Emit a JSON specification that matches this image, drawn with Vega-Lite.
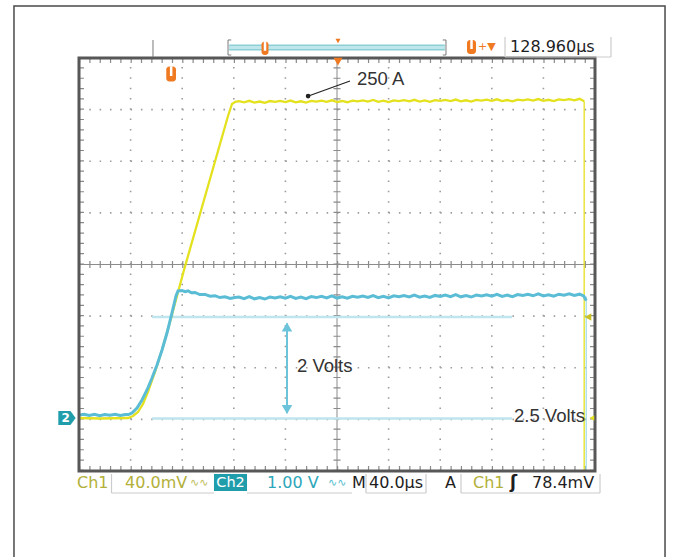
{
  "$schema": "https://vega.github.io/schema/vega-lite/v6.json",
  "width": 678,
  "height": 557,
  "padding": 0,
  "autosize": "none",
  "background": "#ffffff",
  "config": {"view": {"stroke": null}},
  "encoding": {
    "x": {"field": "x", "type": "quantitative", "scale": {"domain": [-1.531, 11.6085], "nice": false, "zero": false}, "axis": null},
    "y": {"field": "y", "type": "quantitative", "scale": {"domain": [-1.6659, 9.1235], "nice": false, "zero": false}, "axis": null}
  },
  "layer": [
    {
      "data": {"values": [{"x": -1.26, "x2": 11.357, "y": 9.007, "y2": -2}]},
      "mark": {"type": "rect", "fillOpacity": 0, "stroke": "#4a4a4a", "strokeWidth": 1.5},
      "encoding": {"x2": {"field": "x2"}, "y2": {"field": "y2"}}
    },
    {
      "data": {"values": [
        {"x": 1, "x2": 1, "y": 0, "y2": 8}, {"x": 2, "x2": 2, "y": 0, "y2": 8}, {"x": 3, "x2": 3, "y": 0, "y2": 8}, {"x": 4, "x2": 4, "y": 0, "y2": 8},
        {"x": 6, "x2": 6, "y": 0, "y2": 8}, {"x": 7, "x2": 7, "y": 0, "y2": 8}, {"x": 8, "x2": 8, "y": 0, "y2": 8}, {"x": 9, "x2": 9, "y": 0, "y2": 8},
        {"x": 0, "x2": 10, "y": 1, "y2": 1}, {"x": 0, "x2": 10, "y": 2, "y2": 2}, {"x": 0, "x2": 10, "y": 3, "y2": 3},
        {"x": 0, "x2": 10, "y": 5, "y2": 5}, {"x": 0, "x2": 10, "y": 6, "y2": 6}, {"x": 0, "x2": 10, "y": 7, "y2": 7}
      ]},
      "mark": {"type": "rule", "color": "#9c9c9c", "strokeWidth": 1.6, "strokeDash": [1.5, 8.82]},
      "encoding": {"x2": {"field": "x2"}, "y2": {"field": "y2"}}
    },
    {
      "data": {"values": [{"x": 0, "x2": 10, "y": 4, "y2": 4}, {"x": 5, "x2": 5, "y": 0, "y2": 8}]},
      "mark": {"type": "rule", "color": "#8a8a8a", "strokeWidth": 1},
      "encoding": {"x2": {"field": "x2"}, "y2": {"field": "y2"}}
    },
    {
      "data": {"values": [{"x": 0, "x2": 10, "y": 4, "y2": 4}, {"x": 5, "x2": 5, "y": 0, "y2": 8}]},
      "mark": {"type": "rule", "color": "#8a8a8a", "strokeWidth": 7, "strokeDash": [1.2, 9.12]},
      "encoding": {"x2": {"field": "x2"}, "y2": {"field": "y2"}}
    },
    {
      "data": {"values": [
        {"x": 0, "x2": 10, "y": 7.952, "y2": 7.952}, {"x": 0, "x2": 10, "y": 0.048, "y2": 0.048},
        {"x": 0.048, "x2": 0.048, "y": 0, "y2": 8}, {"x": 9.952, "x2": 9.952, "y": 0, "y2": 8}
      ]},
      "mark": {"type": "rule", "color": "#8a8a8a", "strokeWidth": 5, "strokeDash": [1.2, 9.12]},
      "encoding": {"x2": {"field": "x2"}, "y2": {"field": "y2"}}
    },
    {
      "data": {"values": [
        {"x": 1.415, "x2": 8.391, "y": 2.983, "y2": 2.983},
        {"x": 1.415, "x2": 8.391, "y": 1.017, "y2": 1.017}
      ]},
      "mark": {"type": "rule", "color": "#bfe5ee", "strokeWidth": 2.5},
      "encoding": {"x2": {"field": "x2"}, "y2": {"field": "y2"}}
    },
    {
      "data": {"values": [{"x": 9.79, "x2": 9.79, "y": 7.16, "y2": 0}]},
      "mark": {"type": "rule", "color": "#e4e11e", "strokeWidth": 1.3},
      "encoding": {"x2": {"field": "x2"}, "y2": {"field": "y2"}}
    },
    {
      "data": {"values": [{"x": 9.83, "x2": 9.83, "y": 3.38, "y2": 0}]},
      "mark": {"type": "rule", "color": "#a6dbe8", "strokeWidth": 1.3},
      "encoding": {"x2": {"field": "x2"}, "y2": {"field": "y2"}}
    },
    {
      "data": {"values": [
        {"x": 0, "y": 1.027}, {"x": 0.4, "y": 1.017}, {"x": 0.95, "y": 1.027}, {"x": 1.047, "y": 1.066}, {"x": 1.143, "y": 1.143},
        {"x": 1.24, "y": 1.298}, {"x": 1.337, "y": 1.531}, {"x": 1.473, "y": 1.918}, {"x": 1.609, "y": 2.344}, {"x": 1.764, "y": 2.886},
        {"x": 1.899, "y": 3.39}, {"x": 2.035, "y": 3.894}, {"x": 2.345, "y": 4.978}, {"x": 2.655, "y": 6.063}, {"x": 2.888, "y": 6.877},
        {"x": 2.965, "y": 7.109}, {"x": 3.03, "y": 7.15},
        {"x": 3.1, "y": 7.165}, {"x": 3.2, "y": 7.141}, {"x": 3.3, "y": 7.171}, {"x": 3.4, "y": 7.137}, {"x": 3.5, "y": 7.157},
        {"x": 3.6, "y": 7.133}, {"x": 3.7, "y": 7.166}, {"x": 3.8, "y": 7.149}, {"x": 3.9, "y": 7.17}, {"x": 4.0, "y": 7.145},
        {"x": 4.1, "y": 7.176}, {"x": 4.2, "y": 7.142}, {"x": 4.3, "y": 7.162}, {"x": 4.4, "y": 7.138}, {"x": 4.5, "y": 7.17},
        {"x": 4.6, "y": 7.154}, {"x": 4.7, "y": 7.175}, {"x": 4.8, "y": 7.15}, {"x": 4.9, "y": 7.181}, {"x": 5.0, "y": 7.146},
        {"x": 5.1, "y": 7.167}, {"x": 5.2, "y": 7.143}, {"x": 5.3, "y": 7.175}, {"x": 5.4, "y": 7.159}, {"x": 5.5, "y": 7.179},
        {"x": 5.6, "y": 7.155}, {"x": 5.7, "y": 7.186}, {"x": 5.8, "y": 7.151}, {"x": 5.9, "y": 7.172}, {"x": 6.0, "y": 7.147},
        {"x": 6.1, "y": 7.18}, {"x": 6.2, "y": 7.164}, {"x": 6.3, "y": 7.184}, {"x": 6.4, "y": 7.16}, {"x": 6.5, "y": 7.19},
        {"x": 6.6, "y": 7.156}, {"x": 6.7, "y": 7.177}, {"x": 6.8, "y": 7.152}, {"x": 6.9, "y": 7.185}, {"x": 7.0, "y": 7.168},
        {"x": 7.1, "y": 7.189}, {"x": 7.2, "y": 7.165}, {"x": 7.3, "y": 7.195}, {"x": 7.4, "y": 7.161}, {"x": 7.5, "y": 7.181},
        {"x": 7.6, "y": 7.157}, {"x": 7.7, "y": 7.19}, {"x": 7.8, "y": 7.173}, {"x": 7.9, "y": 7.194}, {"x": 8.0, "y": 7.169},
        {"x": 8.1, "y": 7.2}, {"x": 8.2, "y": 7.166}, {"x": 8.3, "y": 7.186}, {"x": 8.4, "y": 7.162}, {"x": 8.5, "y": 7.194},
        {"x": 8.6, "y": 7.178}, {"x": 8.7, "y": 7.199}, {"x": 8.8, "y": 7.174}, {"x": 8.9, "y": 7.205}, {"x": 9.0, "y": 7.17},
        {"x": 9.1, "y": 7.191}, {"x": 9.2, "y": 7.167}, {"x": 9.3, "y": 7.199}, {"x": 9.4, "y": 7.183}, {"x": 9.5, "y": 7.203},
        {"x": 9.6, "y": 7.179}, {"x": 9.7, "y": 7.21}, {"x": 9.79, "y": 7.16}
      ]},
      "mark": {"type": "line", "color": "#e4e11e", "strokeWidth": 2.3},
      "encoding": {}
    },
    {
      "data": {"values": [
        {"x": 0, "y": 1.085}, {"x": 0.1, "y": 1.1}, {"x": 0.2, "y": 1.075}, {"x": 0.3, "y": 1.098}, {"x": 0.4, "y": 1.072},
        {"x": 0.5, "y": 1.094}, {"x": 0.6, "y": 1.08}, {"x": 0.7, "y": 1.1}, {"x": 0.8, "y": 1.076}, {"x": 0.9, "y": 1.096},
        {"x": 0.96, "y": 1.094}, {"x": 1.027, "y": 1.124}, {"x": 1.124, "y": 1.221}, {"x": 1.221, "y": 1.376}, {"x": 1.318, "y": 1.569},
        {"x": 1.415, "y": 1.802}, {"x": 1.512, "y": 2.053}, {"x": 1.609, "y": 2.344}, {"x": 1.705, "y": 2.673}, {"x": 1.802, "y": 3.061},
        {"x": 1.88, "y": 3.39}, {"x": 1.919, "y": 3.487}, {"x": 1.996, "y": 3.497}, {"x": 2.06, "y": 3.475}, {"x": 2.112, "y": 3.49},
        {"x": 2.18, "y": 3.452}, {"x": 2.248, "y": 3.458}, {"x": 2.34, "y": 3.418}, {"x": 2.442, "y": 3.42}, {"x": 2.54, "y": 3.385},
        {"x": 2.636, "y": 3.396}, {"x": 2.73, "y": 3.36}, {"x": 2.83, "y": 3.376}, {"x": 2.93, "y": 3.342}, {"x": 3.02, "y": 3.362},
        {"x": 3.1, "y": 3.368}, {"x": 3.2, "y": 3.339}, {"x": 3.3, "y": 3.376}, {"x": 3.4, "y": 3.335}, {"x": 3.5, "y": 3.36},
        {"x": 3.6, "y": 3.331}, {"x": 3.7, "y": 3.37}, {"x": 3.8, "y": 3.351}, {"x": 3.9, "y": 3.376}, {"x": 4.0, "y": 3.347},
        {"x": 4.1, "y": 3.384}, {"x": 4.2, "y": 3.343}, {"x": 4.3, "y": 3.368}, {"x": 4.4, "y": 3.339}, {"x": 4.5, "y": 3.378},
        {"x": 4.6, "y": 3.359}, {"x": 4.7, "y": 3.383}, {"x": 4.8, "y": 3.354}, {"x": 4.9, "y": 3.391}, {"x": 5.0, "y": 3.35},
        {"x": 5.1, "y": 3.375}, {"x": 5.2, "y": 3.346}, {"x": 5.3, "y": 3.385}, {"x": 5.4, "y": 3.366}, {"x": 5.5, "y": 3.391},
        {"x": 5.6, "y": 3.362}, {"x": 5.7, "y": 3.399}, {"x": 5.8, "y": 3.358}, {"x": 5.9, "y": 3.383}, {"x": 6.0, "y": 3.354},
        {"x": 6.1, "y": 3.393}, {"x": 6.2, "y": 3.374}, {"x": 6.3, "y": 3.399}, {"x": 6.4, "y": 3.37}, {"x": 6.5, "y": 3.407},
        {"x": 6.6, "y": 3.366}, {"x": 6.7, "y": 3.391}, {"x": 6.8, "y": 3.362}, {"x": 6.9, "y": 3.401}, {"x": 7.0, "y": 3.382},
        {"x": 7.1, "y": 3.407}, {"x": 7.2, "y": 3.378}, {"x": 7.3, "y": 3.415}, {"x": 7.4, "y": 3.374}, {"x": 7.5, "y": 3.399},
        {"x": 7.6, "y": 3.37}, {"x": 7.7, "y": 3.409}, {"x": 7.8, "y": 3.39}, {"x": 7.9, "y": 3.415}, {"x": 8.0, "y": 3.386},
        {"x": 8.1, "y": 3.423}, {"x": 8.2, "y": 3.382}, {"x": 8.3, "y": 3.407}, {"x": 8.4, "y": 3.378}, {"x": 8.5, "y": 3.417},
        {"x": 8.6, "y": 3.398}, {"x": 8.7, "y": 3.423}, {"x": 8.8, "y": 3.394}, {"x": 8.9, "y": 3.431}, {"x": 9.0, "y": 3.39},
        {"x": 9.1, "y": 3.415}, {"x": 9.2, "y": 3.386}, {"x": 9.3, "y": 3.425}, {"x": 9.4, "y": 3.406}, {"x": 9.5, "y": 3.431},
        {"x": 9.6, "y": 3.402}, {"x": 9.7, "y": 3.425}, {"x": 9.78, "y": 3.39}, {"x": 9.83, "y": 3.3}
      ]},
      "mark": {"type": "line", "color": "#5abdd5", "strokeWidth": 3},
      "encoding": {}
    },
    {
      "data": {"values": [{"x": 4.031, "x2": 4.031, "y": 1.12, "y2": 2.86}]},
      "mark": {"type": "rule", "color": "#6cc4da", "strokeWidth": 2},
      "encoding": {"x2": {"field": "x2"}, "y2": {"field": "y2"}}
    },
    {
      "data": {"values": [{"x": 4.031, "y": 2.79}]},
      "mark": {"type": "point", "shape": "triangle-up", "filled": true, "opacity": 1, "color": "#6cc4da", "size": 110},
      "encoding": {}
    },
    {
      "data": {"values": [{"x": 4.031, "y": 1.19}]},
      "mark": {"type": "point", "shape": "triangle-down", "filled": true, "opacity": 1, "color": "#6cc4da", "size": 110},
      "encoding": {}
    },
    {
      "data": {"values": [{"x": 0, "x2": 10, "y": 0, "y2": 8}]},
      "mark": {"type": "rect", "fillOpacity": 0, "stroke": "#575757", "strokeWidth": 3},
      "encoding": {"x2": {"field": "x2"}, "y2": {"field": "y2"}}
    },
    {
      "data": {"values": [{"x": 5.019, "y": 7.93}]},
      "mark": {"type": "point", "shape": "triangle-down", "filled": true, "opacity": 1, "color": "#f07a22", "size": 80},
      "encoding": {}
    },
    {
      "data": {"values": [{"x": 5.019, "y": 8.33}]},
      "mark": {"type": "point", "shape": "triangle-down", "filled": true, "opacity": 1, "color": "#f07a22", "size": 25},
      "encoding": {}
    },
    {
      "data": {"values": [{"x": 9.864, "y": 2.983}]},
      "mark": {"type": "point", "shape": "triangle-left", "filled": true, "opacity": 1, "color": "#c9c024", "size": 60},
      "encoding": {}
    },
    {
      "data": {"values": [{"x": 9.94, "y": 1.027}]},
      "mark": {"type": "point", "shape": "triangle-left", "filled": true, "opacity": 1, "color": "#e4e11e", "size": 30},
      "encoding": {}
    },
    {
      "data": {"values": [
        {"x": 1.434, "x2": 1.434, "y": 8.349, "y2": 8.019},
        {"x": 2.888, "x2": 2.888, "y": 8.349, "y2": 8.058},
        {"x": 2.888, "x2": 2.95, "y": 8.349, "y2": 8.349},
        {"x": 2.888, "x2": 2.95, "y": 8.058, "y2": 8.058},
        {"x": 7.112, "x2": 7.112, "y": 8.349, "y2": 8.058},
        {"x": 7.05, "x2": 7.112, "y": 8.349, "y2": 8.349},
        {"x": 7.05, "x2": 7.112, "y": 8.058, "y2": 8.058}
      ]},
      "mark": {"type": "rule", "color": "#7a7a7a", "strokeWidth": 1},
      "encoding": {"x2": {"field": "x2"}, "y2": {"field": "y2"}}
    },
    {
      "data": {"values": [{"x": 2.91, "x2": 7.09, "y": 8.203, "y2": 8.203}]},
      "mark": {"type": "rule", "color": "#8ccfd6", "strokeWidth": 6},
      "encoding": {"x2": {"field": "x2"}, "y2": {"field": "y2"}}
    },
    {
      "data": {"values": [{"x": 2.91, "x2": 7.09, "y": 8.203, "y2": 8.203}]},
      "mark": {"type": "rule", "color": "#bfe6ea", "strokeWidth": 3},
      "encoding": {"x2": {"field": "x2"}, "y2": {"field": "y2"}}
    },
    {
      "data": {"values": [
        {"x": 1.691, "x2": 1.88, "y": 7.545, "y2": 7.835},
        {"x": 3.537, "x2": 3.6725, "y": 8.058, "y2": 8.32},
        {"x": 7.519, "x2": 7.694, "y": 8.077, "y2": 8.349}
      ]},
      "mark": {"type": "rect", "color": "#f07a22", "cornerRadius": 3},
      "encoding": {"x2": {"field": "x2"}, "y2": {"field": "y2"}}
    },
    {
      "data": {"values": [
        {"x": 1.786, "x2": 1.786, "y": 7.84, "y2": 7.651},
        {"x": 3.605, "x2": 3.605, "y": 8.33, "y2": 8.14},
        {"x": 7.607, "x2": 7.607, "y": 8.36, "y2": 8.174}
      ]},
      "mark": {"type": "rule", "color": "#ffffff", "strokeWidth": 2.5},
      "encoding": {"x2": {"field": "x2"}, "y2": {"field": "y2"}}
    },
    {
      "data": {"values": [{"x": 7.733, "y": 8.213, "t": "+▼"}]},
      "mark": {"type": "text", "align": "left", "baseline": "middle", "font": "DejaVu Sans", "fontSize": 11, "color": "#f07a22"},
      "encoding": {"text": {"field": "t"}}
    },
    {
      "data": {"values": [
        {"x": 8.256, "x2": 8.256, "y": 8.407, "y2": 8.019},
        {"x": 8.256, "x2": 10.31, "y": 8.019, "y2": 8.019},
        {"x": 10.31, "x2": 10.31, "y": 8.407, "y2": 8.019},
        {"x": 0.63, "x2": 0.63, "y": -0.058, "y2": -0.426},
        {"x": 0.63, "x2": 2.616, "y": -0.426, "y2": -0.426},
        {"x": 3.256, "x2": 5.291, "y": -0.426, "y2": -0.426},
        {"x": 5.562, "x2": 5.562, "y": -0.058, "y2": -0.426},
        {"x": 5.562, "x2": 6.725, "y": -0.426, "y2": -0.426},
        {"x": 6.725, "x2": 6.725, "y": -0.058, "y2": -0.426},
        {"x": 7.403, "x2": 7.403, "y": -0.058, "y2": -0.426},
        {"x": 7.403, "x2": 10.097, "y": -0.426, "y2": -0.426},
        {"x": 10.097, "x2": 10.097, "y": -0.058, "y2": -0.426}
      ]},
      "mark": {"type": "rule", "color": "#cccccc", "strokeWidth": 1.2},
      "encoding": {"x2": {"field": "x2"}, "y2": {"field": "y2"}}
    },
    {
      "data": {"values": [{"x": 2.616, "x2": 3.256, "y": -0.058, "y2": -0.387}]},
      "mark": {"type": "rect", "color": "#1f9dab"},
      "encoding": {"x2": {"field": "x2"}, "y2": {"field": "y2"}}
    },
    {
      "data": {"values": [{"x": -0.233, "y": 1.027}]},
      "mark": {"type": "point", "shape": "M -1 -0.8 L 0.4 -0.8 L 1 0 L 0.4 0.8 L -1 0.8 Z", "filled": true, "opacity": 1, "color": "#1f9dab", "size": 300},
      "encoding": {}
    },
    {
      "data": {"values": [{"x": -0.26, "y": 1.027, "t": "2"}]},
      "mark": {"type": "text", "align": "center", "baseline": "middle", "font": "DejaVu Sans", "fontSize": 12, "fontWeight": "bold", "color": "#ffffff"},
      "encoding": {"text": {"field": "t"}}
    },
    {
      "data": {"values": [{"x": 2.66, "y": -0.2325, "t": "Ch2"}]},
      "mark": {"type": "text", "align": "left", "baseline": "middle", "font": "DejaVu Sans", "fontSize": 14.5, "color": "#ffffff"},
      "encoding": {"text": {"field": "t"}}
    },
    {
      "data": {"values": [
        {"x": -0.039, "y": -0.2325, "t": "Ch1"},
        {"x": 0.892, "y": -0.2325, "t": "40.0mV"},
        {"x": 7.636, "y": -0.2325, "t": "Ch1"}
      ]},
      "mark": {"type": "text", "align": "left", "baseline": "middle", "font": "DejaVu Sans", "fontSize": 16, "color": "#b2b03a"},
      "encoding": {"text": {"field": "t"}}
    },
    {
      "data": {"values": [{"x": 2.151, "y": -0.2325, "t": "∿∿"}]},
      "mark": {"type": "text", "align": "left", "baseline": "middle", "font": "DejaVu Sans", "fontSize": 11, "color": "#c2c060"},
      "encoding": {"text": {"field": "t"}}
    },
    {
      "data": {"values": [{"x": 3.643, "y": -0.2325, "t": "1.00 V"}]},
      "mark": {"type": "text", "align": "left", "baseline": "middle", "font": "DejaVu Sans", "fontSize": 16, "color": "#2ba6ba"},
      "encoding": {"text": {"field": "t"}}
    },
    {
      "data": {"values": [{"x": 4.826, "y": -0.2325, "t": "∿∿"}]},
      "mark": {"type": "text", "align": "left", "baseline": "middle", "font": "DejaVu Sans", "fontSize": 11, "color": "#5bbfd0"},
      "encoding": {"text": {"field": "t"}}
    },
    {
      "data": {"values": [
        {"x": 5.291, "y": -0.2325, "t": "M"},
        {"x": 5.62, "y": -0.2325, "t": "40.0µs"},
        {"x": 7.093, "y": -0.2325, "t": "A"},
        {"x": 8.779, "y": -0.2325, "t": "78.4mV"},
        {"x": 8.353, "y": 8.213, "t": "128.960µs"}
      ]},
      "mark": {"type": "text", "align": "left", "baseline": "middle", "font": "DejaVu Sans", "fontSize": 16, "color": "#1e1e1e"},
      "encoding": {"text": {"field": "t"}}
    },
    {
      "data": {"values": [{"x": 8.353, "y": -0.2325, "t": "ʃ"}]},
      "mark": {"type": "text", "align": "left", "baseline": "middle", "font": "DejaVu Sans", "fontSize": 17, "fontWeight": "bold", "color": "#1e1e1e"},
      "encoding": {"text": {"field": "t"}}
    },
    {
      "data": {"values": [{"x": 5.252, "x2": 4.42, "y": 7.554, "y2": 7.255}]},
      "mark": {"type": "rule", "color": "#222222", "strokeWidth": 1.2},
      "encoding": {"x2": {"field": "x2"}, "y2": {"field": "y2"}}
    },
    {
      "data": {"values": [{"x": 4.44, "y": 7.262}]},
      "mark": {"type": "point", "shape": "circle", "filled": true, "opacity": 1, "color": "#222222", "size": 22},
      "encoding": {}
    },
    {
      "data": {"values": [
        {"x": 4.224, "y": 2.034, "t": "2 Volts"},
        {"x": 8.43, "y": 1.066, "t": "2.5 Volts"},
        {"x": 5.387, "y": 7.593, "t": "250 A"}
      ]},
      "mark": {"type": "text", "align": "left", "baseline": "middle", "font": "Liberation Sans", "fontSize": 18.5, "color": "#333333"},
      "encoding": {"text": {"field": "t"}}
    }
  ]
}
